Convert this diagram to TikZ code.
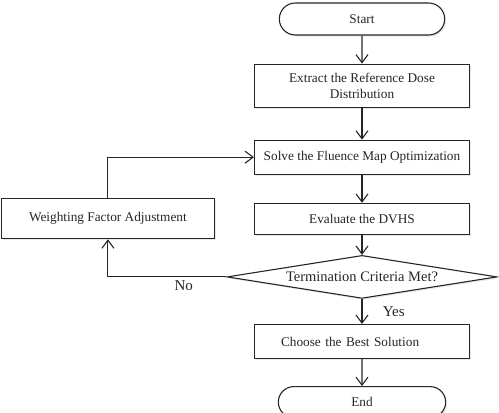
\documentclass[tikz,border=0pt]{standalone}
\usepackage{fontspec}
\setmainfont{Liberation Serif}
\usetikzlibrary{positioning,shapes.geometric,shapes.misc,arrows.meta,shadows}

\begin{document}
\begin{tikzpicture}[x=1pt, y=1pt, node distance=28pt, color=black!85, line width=1.1pt,
    every node/.style={font=\fontsize{13.3}{16}\selectfont},
    myshadow/.style={drop shadow={opacity=0.18, shadow xshift=1.5pt, shadow yshift=-1.5pt}},
    box/.style={draw, rectangle, minimum width=215pt, minimum height=34pt, inner sep=2pt, align=center, fill=white, myshadow},
    term/.style={draw, rounded rectangle, minimum width=172pt, minimum height=32pt, fill=white, myshadow},
    decision/.style={draw, diamond, aspect=6.3, minimum width=270pt, minimum height=43pt, inner sep=0pt, fill=white, myshadow},
    flow/.style={-{Straight Barb[length=8pt,width=12pt]}}]
  \useasboundingbox (0,0) rectangle (499,-413);
  \node[term] (start) at (362,-19) {Start};
  \node[box, minimum height=43pt] (extract) [below=28pt of start] {Extract the Reference Dose\\Distribution};
  \node[box] (solve) [below=32pt of extract] {Solve the Fluence Map Optimization};
  \node[box, minimum height=31pt] (eval) [below=28pt of solve] {Evaluate the DVHS};
  \node[decision, font=\fontsize{14.5}{17}\selectfont] (check) [below=20pt of eval] {Termination Criteria Met?};
  \node[box, align=left, text width=162pt, inner xsep=26pt] (choose) [below=25pt of check] {Choose the Best Solution};
  \node[term, minimum width=174pt, minimum height=31pt] (end) [below=27pt of choose] {End};
  \node[box, minimum width=213pt, minimum height=40pt] (weight) [left=39pt of eval] {Weighting Factor Adjustment};
  \path[flow]
    (start) edge (extract)
    (extract) edge (solve)
    (solve) edge (eval)
    (eval) edge (check)
    (check) edge node[right=17pt, font=\fontsize{15}{18}\selectfont] {Yes} (choose)
    (choose) edge (end);
  \draw[flow] (check.west) -| node[pos=0.18, below, font=\fontsize{15}{18}\selectfont] {No} (weight.south);
  \draw[flow] (weight.north) |- (solve.west);
\end{tikzpicture}
\end{document}
